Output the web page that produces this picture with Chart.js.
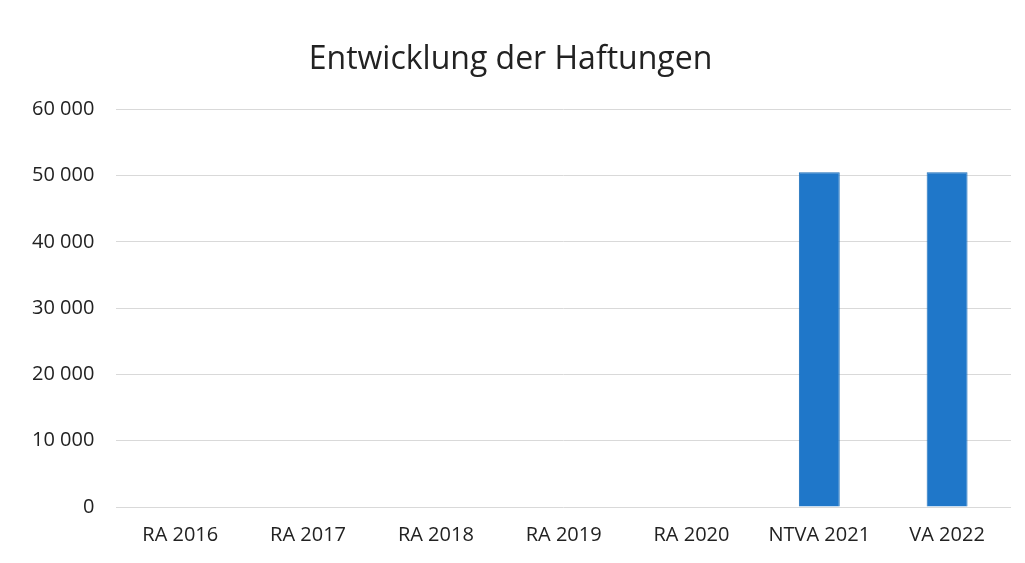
<!DOCTYPE html>
<html>
<head>
<meta charset="utf-8">
<script src="https://cdn.jsdelivr.net/npm/chart.js"></script>
<style>
  html, body { margin: 0; padding: 0; background: #fff; }
  #wrap { width: 1025px; height: 563px; }
</style>
</head>
<body>
<div id="wrap"><canvas id="hchart" width="1025" height="563"></canvas></div>
<script>
const labels = ['RA 2016', 'RA 2017', 'RA 2018', 'RA 2019', 'RA 2020', 'NTVA 2021', 'VA 2022'];
const haftungen = [0, 0, 0, 0, 0, 50500, 50500];
const yTicks = [0, 10000, 20000, 30000, 40000, 50000, 60000];

function fmt(v) {
    return String(v).replace(/\B(?=(\d{3})+(?!\d))/g, ' ');
}

var ctx = document.getElementById('hchart').getContext('2d');

var data = {
    labels: labels,
    datasets: [
        {
            label: 'Haftungen',
            data: haftungen,
            backgroundColor: '#1f77c9',
            borderColor: '#1a6db8',
            borderWidth: 1,
            barPercentage: 1,
            categoryPercentage: 0.32
        }
    ]
};

var options = {
    responsive: false,
    animation: false,
    layout: { padding: { left: 10, right: 14, top: 41, bottom: 8 } },
    plugins: {
        legend: { display: false },
        tooltip: { enabled: false },
        title: {
            display: true,
            text: 'Entwicklung der Haftungen',
            color: '#222',
            font: { family: 'Open Sans', size: 32, weight: 'normal' },
            padding: { top: 0, bottom: 30 }
        }
    },
    scales: {
        x: {
            grid: { display: false },
            border: { display: false },
            ticks: {
                color: '#222',
                font: { family: 'Open Sans', size: 20 },
                padding: 8,
                maxRotation: 0
            }
        },
        y: {
            min: 0,
            max: 60000,
            afterBuildTicks: function (axis) {
                axis.ticks = yTicks.map(function (v) { return { value: v }; });
            },
            grid: { color: '#d9d9d9', lineWidth: 1, drawTicks: false },
            border: { display: false },
            ticks: {
                color: '#222',
                font: { family: 'Open Sans', size: 20 },
                padding: 22,
                callback: function (v) { return fmt(v); }
            }
        }
    }
};

var config = {
    type: 'bar',
    data: data,
    options: options
};
var hchart = new Chart(ctx, config);
</script>
</body>
</html>
